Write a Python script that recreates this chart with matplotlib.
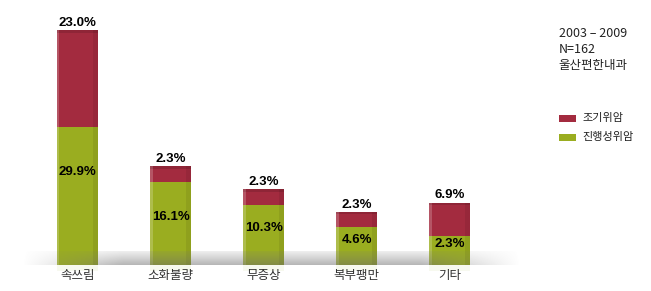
import numpy as np
import matplotlib.pyplot as plt
from matplotlib.patches import Rectangle
from matplotlib.colors import LinearSegmentedColormap

plt.rcParams['font.family'] = ['Noto Sans CJK KR', 'DejaVu Sans']

# 데이터
categories = ["속쓰림", "소화불량", "무증상", "복부팽만", "기타"]
advanced = [29.9, 16.1, 10.3, 4.6, 2.3]   # 진행성위암
early = [23.0, 2.3, 2.3, 2.3, 6.9]        # 조기위암
note_lines = ["2003 – 2009", "N=162", "울산편한내과"]

red = "#a32b3f"
green = "#9aad20"
pad = 1.65   # every segment gets a small minimum height, like the original
base = 3.3   # bars sink into the floor
num_font = ["Liberation Sans Narrow", "Liberation Sans"]

fig = plt.figure(figsize=(6.51, 2.91), dpi=100)
ax = fig.add_axes([0, 0, 1, 1])
ax.set_xlim(-0.832, 6.16)
ax.set_ylim(-9.87, 63.8)
ax.axis("off")

x = np.arange(len(categories))
w = 0.44
g_top = np.array(advanced) + pad
r_h = np.array(early) + pad
tops = g_top + r_h

ax.bar(x, g_top + base, w, bottom=-base, color=green, zorder=2)
ax.bar(x, r_h, w, bottom=g_top, color=red, zorder=2)

# bit of depth: light left edge, darker right edge, top bevel
for xi, t in zip(x, tops):
    ax.add_patch(Rectangle((xi - w / 2, -base), w * 0.06, t + base,
                           color="white", alpha=0.2, lw=0, zorder=3))
    ax.add_patch(Rectangle((xi + w / 2 - w * 0.12, -base), w * 0.12, t + base,
                           color="black", alpha=0.07, lw=0, zorder=3))
    ax.add_patch(Rectangle((xi - w / 2, t - 0.7), w, 0.7,
                           color="black", alpha=0.12, lw=0, zorder=3))

# faint reflection under the bars
ax.bar(x, 1.4, w, bottom=-base - 1.4, color=green, alpha=0.07, lw=0, zorder=1)

# floor shadow band
grad = np.linspace(1.0, 0.25, 50)[:, None] * np.ones((1, 200))
fade = np.clip(np.minimum(np.linspace(0, 5, 200), np.linspace(5, 0, 200)), 0, 1)
grad = grad * fade[None, :]
cmap = LinearSegmentedColormap.from_list(
    "floor", [(0.5, 0.5, 0.5, 0.0), (0.42, 0.42, 0.42, 0.5)])
ax.imshow(grad, extent=(-0.6, 4.75, -3.3, 0.2), origin="lower",
          cmap=cmap, aspect="auto", zorder=4, interpolation="bilinear")

for xi, g, t, a, e, c in zip(x, g_top, tops, advanced, early, categories):
    ax.text(xi, t + 0.3, f"{e:.1f}%", ha="center", va="bottom",
            fontsize=9.5, fontweight="bold", family=num_font, zorder=5)
    ax.text(xi, g / 2 + (4.5 if g > 25 else 0), f"{a:.1f}%", ha="center", va="center",
            fontsize=9.5, fontweight="bold", family=num_font, zorder=5)
    ax.text(xi, -5.9, c, ha="center", va="center", fontsize=9, color="#333333", zorder=5)

for i, line in enumerate(note_lines):
    ax.text(5.17, 55.4 - i * 4.1, line, ha="left", va="center", fontsize=9, color="#222222")

# legend
ax.add_patch(Rectangle((5.17, 33.0), 0.185, 1.8, color=red, lw=0))
ax.text(5.42, 33.9, "조기위암", ha="left", va="center", fontsize=8, color="#222222")
ax.add_patch(Rectangle((5.17, 28.2), 0.185, 1.8, color=green, lw=0))
ax.text(5.42, 29.1, "진행성위암", ha="left", va="center", fontsize=8, color="#222222")

fig.savefig("out.png", dpi=100)
